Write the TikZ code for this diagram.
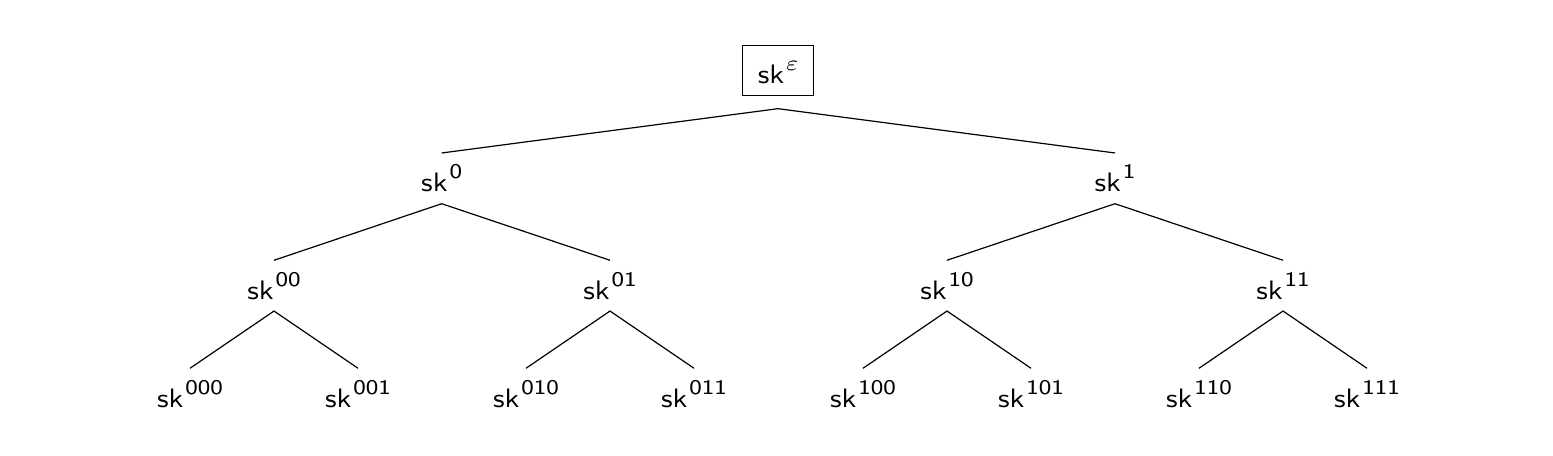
\documentclass[tikz,border=0pt]{standalone}
\usepackage{fontspec}
\usepackage{graphicx}
\newcommand\skey[1]{\scalebox{1.13}[1]{\fontsize{10}{12}\selectfont\sffamily sk\kern0.7pt\raisebox{4.8pt}{\fontsize{7.8}{9}\selectfont #1}}}
\begin{document}
\begin{tikzpicture}[x=0.3745pt, y=-0.3745pt,
  keynode/.style={anchor=base, inner sep=0pt, text height=14.3pt, text depth=4.3pt},
  rootnode/.style={anchor=base, draw, inner sep=0pt, minimum width=26.4pt, text height=14.1pt, text depth=4.6pt, outer ysep=4.9pt},
  edge/.style={draw, line width=0.45pt}]
\useasboundingbox (0,0) rectangle (1553,455);
% root
\node[rootnode] (r) at (778,83.3) {\skey{$\varepsilon$}};
% level 1
\node[keynode] (n0) at (441.7,191.7) {\skey{0}};
\node[keynode] (n1) at (1115,191.7) {\skey{1}};
% level 2
\node[keynode] (n00) at (274,299) {\skey{00}};
\node[keynode] (n01) at (610,299) {\skey{01}};
\node[keynode] (n10) at (947,299) {\skey{10}};
\node[keynode] (n11) at (1283,299) {\skey{11}};
% level 3
\node[keynode] (n000) at (190,407) {\skey{000}};
\node[keynode] (n001) at (358,407) {\skey{001}};
\node[keynode] (n010) at (526,407) {\skey{010}};
\node[keynode] (n011) at (694,407) {\skey{011}};
\node[keynode] (n100) at (863,407) {\skey{100}};
\node[keynode] (n101) at (1031,407) {\skey{101}};
\node[keynode] (n110) at (1199,407) {\skey{110}};
\node[keynode] (n111) at (1367,407) {\skey{111}};
% edges
\draw[edge] (n0.north) -- (r.south) -- (n1.north);
\draw[edge] (n00.north) -- (n0.south) -- (n01.north);
\draw[edge] (n10.north) -- (n1.south) -- (n11.north);
\draw[edge] (n000.north) -- (n00.south) -- (n001.north);
\draw[edge] (n010.north) -- (n01.south) -- (n011.north);
\draw[edge] (n100.north) -- (n10.south) -- (n101.north);
\draw[edge] (n110.north) -- (n11.south) -- (n111.north);
\end{tikzpicture}
\end{document}
